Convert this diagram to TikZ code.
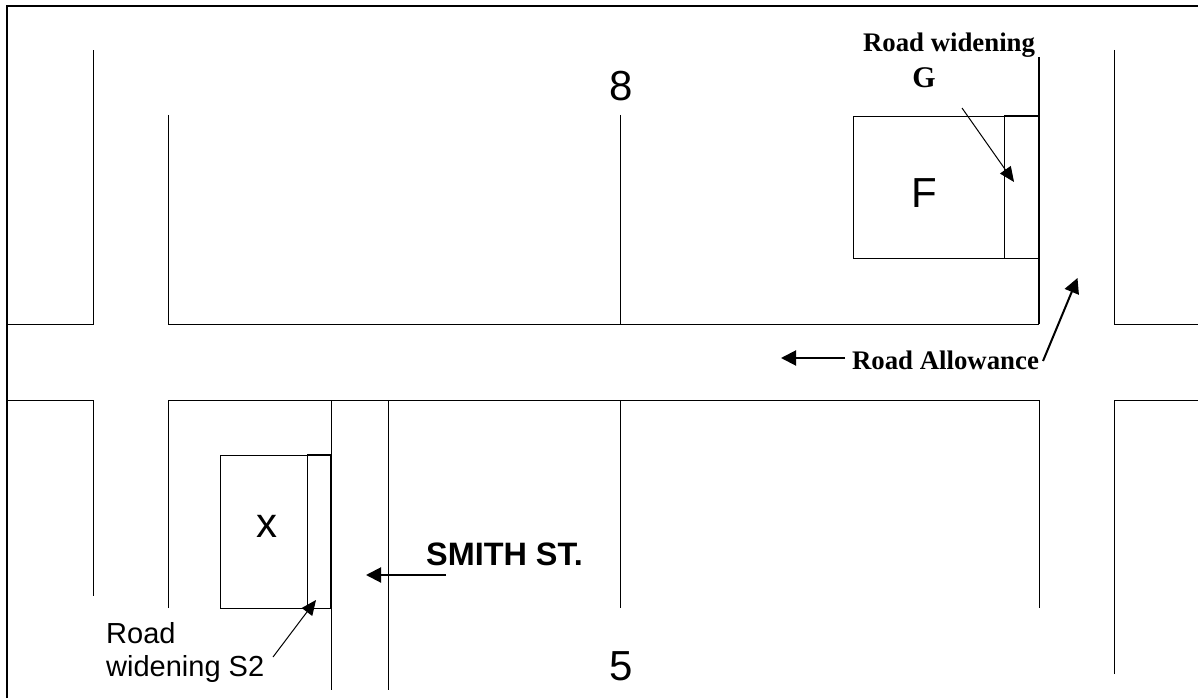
\documentclass[tikz,border=0pt]{standalone}
\usepackage{fontspec}
\setmainfont{Liberation Sans}
\newfontfamily\timesf{Liberation Serif}
\usetikzlibrary{arrows.meta}
\tikzset{
  thinln/.style={draw=black,line width=0.9pt},
  medln/.style={draw=black,line width=1.5pt},
  frameln/.style={draw=black,line width=2pt},
  arrowthin/.style={draw=black,line width=1pt,-{Triangle[length=15pt,width=13pt]}},
  arrowbold/.style={draw=black,line width=2pt,-{Triangle[length=15pt,width=15pt]}},
  bigtext/.style={font=\fontsize{42}{42}\selectfont,inner sep=0pt},
  serifb/.style={font=\timesf\bfseries\fontsize{26.8}{32}\selectfont,inner sep=0pt,anchor=base},
  serifg/.style={font=\timesf\bfseries\fontsize{30}{32}\selectfont,inner sep=0pt,anchor=base},
  arial/.style={font=\fontsize{29}{35}\selectfont,inner sep=0pt,anchor=base west},
  smith/.style={font=\bfseries\fontsize{32.4}{36}\selectfont,inner sep=0pt,anchor=base west}
}
\begin{document}
\begin{tikzpicture}[x=1pt,y=-1pt]
\useasboundingbox (0,0) rectangle (1198,698);
% frame
\draw[frameln] (7,698) -- (7,6) -- (1198,6);
% upper block
\draw[thinln] (7,324) -- (93,324) -- (93,50);
\draw[thinln] (168,115) -- (168,324) -- (1039,324);
\draw[thinln] (620,115) -- (620,324);
\draw[medln] (1039,57) -- (1039,324);
\draw[thinln] (1114,50) -- (1114,324) -- (1198,324);
% lower block
\draw[thinln] (7,400) -- (93,400) -- (93,596);
\draw[thinln] (168,608) -- (168,400) -- (1039,400) -- (1039,608);
\draw[thinln] (331,400) -- (331,690);
\draw[thinln] (388,400) -- (388,690);
\draw[thinln] (620,400) -- (620,608);
\draw[thinln] (1114,674) -- (1114,400) -- (1198,400);
% lot F
\draw[thinln] (853,116) rectangle (1039,258);
\draw[thinln] (1004,116) -- (1004,258);
\draw[medln] (1004,116) -- (1039,116);
% lot x
\draw[thinln] (220,455) rectangle (331,608);
\draw[thinln] (307,455) -- (307,608);
\draw[medln] (307,455) -- (331,455) -- (331,608);
% labels
\node[bigtext] (eight) at (621,86) {8};
\node[bigtext] (five) at (621,666) {5};
\node[bigtext] (lotF) at (924,193) {F};
\node[bigtext] (lotX) at (266.5,526) {x};
\node[serifb] (rw) at (949,52) {Road widening};
\node[serifg] (g) at (924,87.5) {G};
\node[serifb] (ra) at (945.5,369.5) {Road Allowance};
\node[smith] (st) at (426,565) {SMITH ST.};
\node[arial] (r1) at (106,643) {Road};
\node[arial] (r2) at (106,676) {widening S2};
% arrow ends
\coordinate (gs) at (962,108);
\coordinate (ge) at (1014,182);
\coordinate (ras) at (1043,361);
\coordinate (rae) at (1077.5,278);
\coordinate (las) at (845,358);
\coordinate (lae) at (781,358);
\coordinate (ss) at (446,575);
\coordinate (se) at (366,575);
\coordinate (ws) at (273,657);
\coordinate (we) at (316,600);
\draw[arrowthin] (gs) -- (ge);
\draw[arrowbold] (ras) -- (rae);
\draw[arrowbold] (las) -- (lae);
\draw[arrowbold] (ss) -- (se);
\draw[arrowthin] (ws) -- (we);
\end{tikzpicture}
\end{document}
